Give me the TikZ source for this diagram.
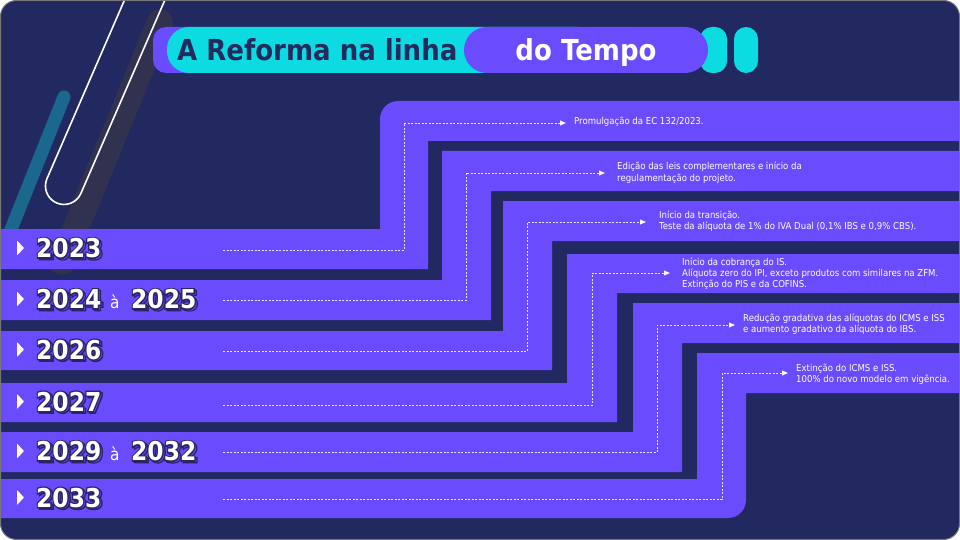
\documentclass[tikz,border=0pt]{standalone}
\usepackage{fontspec}
\setmainfont{DejaVu Sans}[FakeStretch=0.9]
\newfontface\yrol{DejaVu Sans Bold}[FakeStretch=0.9, FakeBold=10]
\newfontface\yrmain{DejaVu Sans Bold}[FakeStretch=0.9]
\usetikzlibrary{arrows.meta}
\definecolor{navy}{HTML}{212960}
\definecolor{bandc}{HTML}{6A4BFD}
\definecolor{cyanp}{HTML}{0CDBE2}
\definecolor{tealst}{HTML}{1B6F93}
\definecolor{grayst}{HTML}{303250}
\definecolor{outc}{HTML}{2A2463}
\definecolor{titc}{HTML}{232A5E}
\definecolor{framec}{HTML}{777777}
\newcommand\oc[3]{\rlap{\kern#1\raisebox{#2}{#3}}}
\newcommand\yr[1]{%
 \oc{2pt}{-1.5pt}{\yrol\textcolor{outc}{#1}}%
 \oc{2pt}{-1.5pt}{\yrmain\textcolor{bandc}{#1}}%
 \oc{0pt}{0pt}{\yrol\textcolor{outc}{#1}}%
 {\yrmain\textcolor{white}{#1}}}
\tikzset{
 yearnode/.style={anchor=base west, inner sep=0pt, font=\fontsize{26}{28}\selectfont},
 anode/.style={anchor=base west, inner sep=0pt, text=white, font=\fontsize{17}{18}\selectfont},
 txt/.style={anchor=base west, inner sep=0pt, text=white, align=left, font=\fontsize{9.5}{11.3}\selectfont},
 conn/.style={draw=white, draw opacity=0.85, line width=0.8pt, dash pattern=on 2pt off 1.5pt, -{Triangle[width=5pt,length=6pt]}},
 marker/.style={fill=white, rounded corners=0.6pt}
}
\begin{document}
\begin{tikzpicture}[x=1pt,y=-1pt]
\useasboundingbox (0,0) rectangle (960,540);
\fill[white] (0,0) rectangle (960,540);
\fill[navy, rounded corners=16pt] (0.5,0.5) rectangle (959.5,539.5);
\begin{scope}
\clip[rounded corners=16pt] (0.5,0.5) rectangle (959.5,539.5);
% decorations
\draw[tealst, line width=13pt, line cap=round, opacity=0.9] (64,97) -- (-2,262);
\draw[grayst, line width=26pt, line cap=round] (160,22) -- (62,262);
\draw[white, line width=1.6pt] (124.5,0) -- (47,178.6) arc[start angle=203.5, end angle=23.5, radius=18.5] -- (164.9,0);
% bands
\fill[bandc] (-5,229) -- (380,229) -- (380,119) arc[start angle=180, end angle=270, radius=18] -- (965,101) -- (965,141) -- (428,141) -- (428,269) -- (-5,269) -- cycle;
\fill[bandc] (-5,280) -- (442,280) -- (442,151) -- (965,151) -- (965,191) -- (491,191) -- (491,320) -- (-5,320) -- cycle;
\fill[bandc] (-5,331) -- (503,331) -- (503,201) -- (965,201) -- (965,241) -- (552,241) -- (552,370) -- (-5,370) -- cycle;
\fill[bandc] (-5,383) -- (567,383) -- (567,254) -- (965,254) -- (965,293) -- (617,293) -- (617,422) -- (-5,422) -- cycle;
\fill[bandc] (-5,432) -- (633,432) -- (633,303) -- (965,303) -- (965,343) -- (682,343) -- (682,472) -- (-5,472) -- cycle;
\fill[bandc] (-5,479) -- (697,479) -- (697,353) -- (965,353) -- (965,393) -- (746,393) -- (746,500) arc[start angle=0, end angle=90, radius=18] -- (-5,518) -- cycle;
\end{scope}
% title
\fill[bandc, rounded corners=13pt] (153,27) rectangle (205,73);
\fill[cyanp, rounded corners=22pt] (167,27) rectangle (600,73);
\fill[cyanp, rounded corners=12pt] (700,27) rectangle (727,73);
\fill[cyanp, rounded corners=12pt] (734,27) rectangle (758,73);
\fill[bandc, rounded corners=23pt] (464,27) rectangle (708,73);
\node[anchor=base west, inner sep=0pt, text=titc, font=\fontsize{28.9}{30}\selectfont\bfseries] (title1) at (177,61) {A Reforma na linha};
\node[anchor=base, inner sep=0pt, text=white, font=\fontsize{28.9}{30}\selectfont\bfseries] (title2) at (586,61) {do Tempo};
% markers
\foreach \c in {248,299,349.5,401.5,451,497.5}{
 \fill[marker] (17,\c-7.5) -- (24,\c) -- (17,\c+7.5) -- cycle;
}
% years
\node[yearnode] (y1) at (36,257.5) {\yr{2023}};
\node[yearnode] (y2) at (36,308.5) {\yr{2024}};
\node[anode] (a2) at (110,308.5) {à};
\node[yearnode] (y2b) at (131,308.5) {\yr{2025}};
\node[yearnode] (y3) at (36,359) {\yr{2026}};
\node[yearnode] (y4) at (36,411) {\yr{2027}};
\node[yearnode] (y5) at (36,460.5) {\yr{2029}};
\node[anode] (a5) at (110,460.5) {à};
\node[yearnode] (y5b) at (131,460.5) {\yr{2032}};
\node[yearnode] (y6) at (36,507) {\yr{2033}};
% texts (anchor = baseline of last line)
\node[txt] (d1) at (574,125) {Promulgação da EC 132/2023.};
\node[txt] (d2) at (617,181.3) {Edição das leis complementares e início da\\regulamentação do projeto.};
\node[txt] (d3) at (659,229.8) {Início da transição.\\Teste da alíquota de 1\% do IVA Dual (0,1\% IBS e 0,9\% CBS).};
\node[txt] (d4) at (682,287.6) {Início da cobrança do IS.\\Alíquota zero do IPI, exceto produtos com similares na ZFM.\\Extinção do PIS e da COFINS.};
\node[txt] (d5) at (743,332.3) {Redução gradativa das alíquotas do ICMS e ISS\\e aumento gradativo da alíquota do IBS.};
\node[txt] (d6) at (796,382.3) {Extinção do ICMS e ISS.\\100\% do novo modelo em vigência.};
% connector coordinates
\coordinate (s1) at (223,250); \coordinate (k1) at (404,123); \coordinate (e1) at (566,123);
\coordinate (s2) at (223,300); \coordinate (k2) at (466,173); \coordinate (e2) at (605,173);
\coordinate (s3) at (223,351); \coordinate (k3) at (527,222); \coordinate (e3) at (646,222);
\coordinate (s4) at (223,405); \coordinate (k4) at (592,273); \coordinate (e4) at (670,273);
\coordinate (s5) at (223,452); \coordinate (k5) at (657,325); \coordinate (e5) at (735,325);
\coordinate (s6) at (223,499); \coordinate (k6) at (722,373); \coordinate (e6) at (788,373);
\draw[conn] (s1) -| (k1) -- (e1);
\draw[conn] (s2) -| (k2) -- (e2);
\draw[conn] (s3) -| (k3) -- (e3);
\draw[conn] (s4) -| (k4) -- (e4);
\draw[conn] (s5) -| (k5) -- (e5);
\draw[conn] (s6) -| (k6) -- (e6);
% frame border
\draw[framec, line width=1pt, rounded corners=16pt] (0.5,0.5) rectangle (959.5,539.5);
\end{tikzpicture}
\end{document}
